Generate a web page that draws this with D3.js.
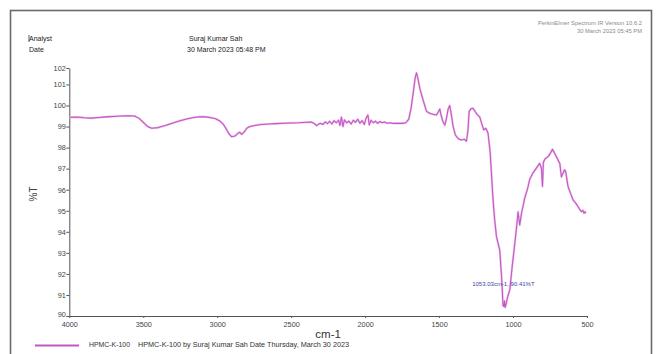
<!DOCTYPE html>
<html>
<head>
<meta charset="utf-8">
<script src="https://cdn.jsdelivr.net/npm/d3@7"></script>
<style>
  html, body { margin: 0; padding: 0; background: #fff; }
  svg { display: block; font-family: "Liberation Sans", Arial, sans-serif; }
</style>
</head>
<body>
<svg id="chart" width="657" height="354"></svg>
<script>
// IR spectrum of HPMC-K-100: wavenumber (cm-1) and transmittance (%T)
const wavenumbers = [
  4000, 3950, 3900, 3850, 3800, 3750, 3700, 3650, 3600, 3560, 3530, 3500, 3470, 3443,
  3400, 3350, 3300, 3250, 3200, 3150, 3117, 3080, 3040, 3010, 2980, 2960, 2940, 2920,
  2903, 2880, 2860, 2847, 2835, 2820, 2800, 2780, 2740, 2700, 2650, 2600, 2550, 2500,
  2450, 2400, 2360, 2340, 2328, 2315, 2300, 2285, 2270, 2255, 2240, 2225, 2210, 2195,
  2180, 2170, 2160, 2150, 2140, 2125, 2110, 2095, 2080, 2065, 2050, 2035, 2020, 2005,
  1995, 1981, 1972, 1960, 1945, 1930, 1915, 1900, 1885, 1870, 1850, 1830, 1810, 1780,
  1750, 1725, 1705, 1690, 1675, 1662, 1653, 1645, 1630, 1608, 1585, 1560, 1540, 1518,
  1505, 1495, 1485, 1472, 1461, 1450, 1438, 1428, 1418, 1405, 1390, 1370, 1349, 1330,
  1315, 1305, 1297, 1285, 1270, 1255, 1240, 1225, 1210, 1198, 1184, 1169, 1155, 1146,
  1135, 1124, 1112, 1090, 1075, 1068, 1062, 1058, 1053.03, 1046, 1035, 1022, 1005, 988,
  975, 966, 955, 943, 930, 921, 900, 887, 865, 840, 820, 808, 801, 795,
  785, 763, 750, 734, 720, 707, 695, 684, 673, 662, 652, 644, 636, 628,
  610, 594, 575, 560, 548, 537, 528, 520, 514, 508
];
const transmittance = [
  99.44, 99.45, 99.42, 99.40, 99.43, 99.46, 99.48, 99.50, 99.51, 99.50, 99.40, 99.20, 99.00, 98.92,
  98.95, 99.05, 99.17, 99.28, 99.37, 99.44, 99.47, 99.46, 99.42, 99.37, 99.25, 99.12, 98.90, 98.65,
  98.52, 98.55, 98.68, 98.73, 98.63, 98.72, 98.92, 99.00, 99.06, 99.10, 99.12, 99.14, 99.16, 99.17,
  99.18, 99.20, 99.21, 99.12, 99.04, 99.12, 99.15, 99.10, 99.22, 99.14, 99.25, 99.12, 99.28, 99.18,
  99.30, 99.05, 99.45, 99.00, 99.32, 99.18, 99.26, 99.12, 99.30, 99.20, 99.35, 99.16, 99.28, 99.10,
  99.38, 99.55, 99.08, 99.30, 99.18, 99.26, 99.15, 99.24, 99.18, 99.22, 99.16, 99.18, 99.15, 99.15,
  99.15, 99.18, 99.35, 99.85, 100.60, 101.30, 101.55, 101.35, 100.80, 100.26, 99.72, 99.62, 99.58, 99.55,
  99.70, 99.83, 99.50, 99.20, 99.07, 99.40, 99.85, 100.00, 99.60, 99.00, 98.60, 98.42, 98.36, 98.40,
  98.30, 98.80, 99.70, 99.85, 99.87, 99.70, 99.55, 99.45, 99.10, 98.84, 98.92, 98.68, 97.80, 96.78,
  95.50, 94.56, 93.77, 93.13, 91.60, 90.50, 90.45, 90.72, 90.41, 90.60, 90.95, 91.24, 92.40, 93.45,
  94.30, 94.95, 94.32, 94.87, 95.30, 95.60, 96.10, 96.50, 96.80, 97.05, 97.25, 97.02, 96.15, 97.30,
  97.45, 97.57, 97.70, 97.92, 97.75, 97.57, 97.40, 97.25, 96.61, 96.78, 96.95, 96.86, 96.50, 96.15,
  95.80, 95.51, 95.35, 95.19, 95.05, 94.96, 95.02, 94.88, 94.95, 94.88
];
const xTicks = [4000, 3500, 3000, 2500, 2000, 1500, 1000, 500];
const yTicks = [90, 91, 92, 93, 94, 95, 96, 97, 98, 99, 100, 101];
const yTopLabel = "102";
const seriesName = "HPMC-K-100";
const legendText = "HPMC-K-100 by Suraj Kumar Sah Date Thursday, March 30 2023";
const headerLabels = ["Analyst", "Date"];
const headerValues = ["Suraj Kumar Sah", "30 March 2023 05:48 PM"];
const instrumentLines = ["PerkinElmer Spectrum IR Version 10.6.2", "30 March 2023 05:45 PM"];

const svg = d3.select("#chart");
const lineColor = "#c455c4";

// frame around the report
svg.append("rect")
  .attr("x", 10.5).attr("y", 10.5)
  .attr("width", 641).attr("height", 360)
  .attr("fill", "none").attr("stroke", "#6a6a6a").attr("stroke-width", 1.6);

// header block
headerLabels.forEach((t, i) => {
  svg.append("text").attr("x", 29).attr("y", 41 + i * 11)
    .attr("font-size", 7).attr("fill", "#222").text(t);
});
svg.append("line").attr("x1", 29).attr("x2", 29).attr("y1", 35).attr("y2", 42)
  .attr("stroke", "#333").attr("stroke-width", 0.8);
headerValues.forEach((t, i) => {
  svg.append("text").attr("x", i === 0 ? 189 : 187).attr("y", 41 + i * 11)
    .attr("font-size", 7).attr("fill", "#222").text(t);
});
instrumentLines.forEach((t, i) => {
  svg.append("text").attr("x", 642).attr("y", 25 + i * 8)
    .attr("text-anchor", "end").attr("font-size", 5.8).attr("fill", "#8a8a8a").text(t);
});

// scales
const x = d3.scaleLinear().domain([4000, 500]).range([69.3, 587]);
const yPerUnit = 21.05;
const yBottom = 316, yTop = 68;
const yMax = 90 + (yBottom - yTop) / yPerUnit;
const y = d3.scaleLinear().domain([90, yMax]).range([yBottom, yTop]);

// axes
const yAxis = d3.axisLeft(y)
  .tickValues(yTicks.concat([yMax]))
  .tickFormat(d => d === yMax ? yTopLabel : d3.format("d")(d))
  .tickSize(3).tickSizeOuter(0);
const gy = svg.append("g").attr("transform", `translate(${x(4000)},0)`).call(yAxis);

const xAxis = d3.axisBottom(x).tickValues(xTicks).tickFormat(d3.format("d"))
  .tickSize(2).tickSizeOuter(0);
const gx = svg.append("g").attr("transform", `translate(0,${yBottom})`).call(xAxis);

[gx, gy].forEach(g => {
  g.select(".domain").attr("stroke", "#555").attr("stroke-width", 1);
  g.selectAll(".tick line").attr("stroke", "#555");
  g.selectAll(".tick text").attr("font-size", 7.3).attr("fill", "#444")
    .attr("font-family", "Liberation Sans, Arial, sans-serif");
});
gy.selectAll(".tick text").attr("x", -3.5);
gy.selectAll(".tick").filter(d => d === 90).select("text").attr("dy", "0.1em");
gx.selectAll(".tick text").attr("y", 5.5);

// axis titles
svg.append("text").attr("x", x(2250)).attr("y", 338)
  .attr("text-anchor", "middle").attr("font-size", 11.5).attr("fill", "#333").text("cm-1");
svg.append("text")
  .attr("transform", `translate(37,${y(95.8)}) rotate(-90)`)
  .attr("text-anchor", "middle").attr("font-size", 10).attr("fill", "#444").text("%T");

// spectrum
const pts = wavenumbers.map((w, i) => [w, transmittance[i]]);
const line = d3.line().x(d => x(d[0])).y(d => y(d[1])).curve(d3.curveLinear);
svg.append("path").datum(pts)
  .attr("d", line).attr("fill", "none")
  .attr("stroke", "#ebc2eb").attr("stroke-width", 2.2).attr("stroke-linejoin", "round");
svg.append("path").datum(pts)
  .attr("d", line).attr("fill", "none")
  .attr("stroke", lineColor).attr("stroke-width", 1.05).attr("stroke-linejoin", "round");

// peak annotation at the minimum transmittance
const minIdx = d3.minIndex(transmittance);
const minW = wavenumbers[minIdx], minT = transmittance[minIdx];
svg.append("text").attr("x", x(minW) - 33).attr("y", y(minT) - 21)
  .attr("font-size", 6).attr("fill", "#3a44a8")
  .text(`${minW.toFixed(2)}cm-1, ${minT.toFixed(2)}%T`);

// legend
svg.append("line").attr("x1", 35).attr("x2", 79).attr("y1", 345.5).attr("y2", 345.5)
  .attr("stroke", lineColor).attr("stroke-width", 2.2);
svg.append("text").attr("x", 89).attr("y", 346.5).attr("font-size", 6.8).attr("fill", "#333")
  .attr("textLength", 41).attr("lengthAdjust", "spacingAndGlyphs").text(seriesName);
svg.append("text").attr("x", 138).attr("y", 346.5).attr("font-size", 6.8).attr("fill", "#333")
  .attr("textLength", 211).attr("lengthAdjust", "spacingAndGlyphs").text(legendText);
</script>
</body>
</html>
